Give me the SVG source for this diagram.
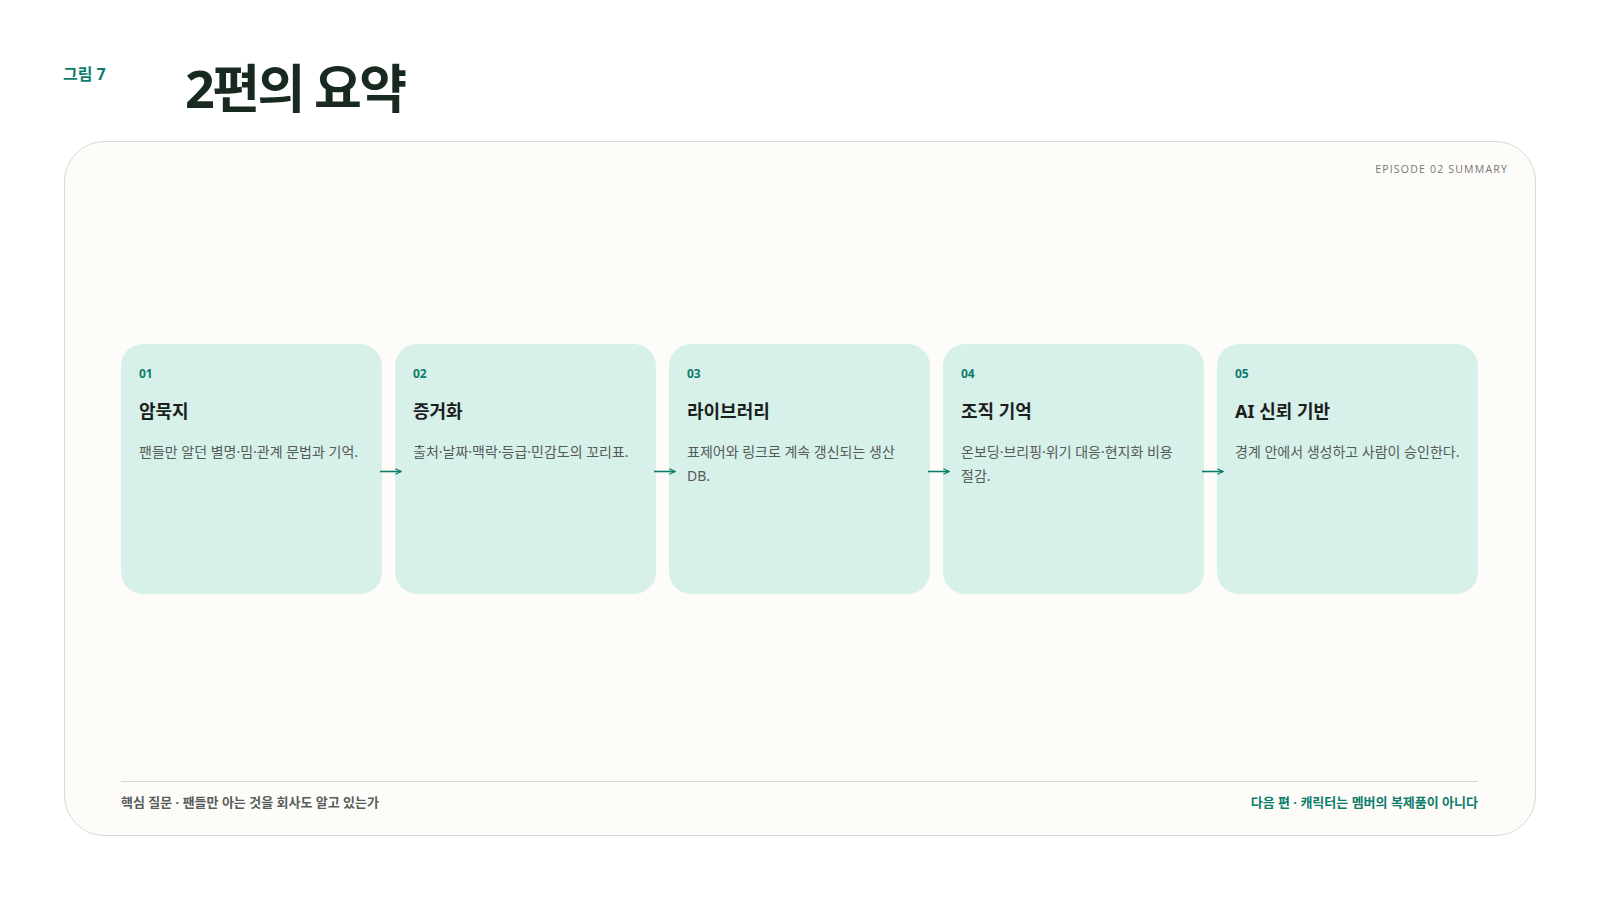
<svg xmlns="http://www.w3.org/2000/svg" width="1600" height="900" viewBox="0 0 1600 900">
<defs>
<style>
.k{font-family:"Noto Sans","Noto Sans CJK KR",sans-serif;}
.card{fill:#d7f0ea;}
.num{font-size:12px;font-weight:700;fill:#0e7c6b;}
.ttl{font-size:18px;font-weight:700;fill:#1b1f1d;}
.desc{font-size:14px;fill:#555b58;}
.conn{stroke:#0e7c6b;stroke-width:1.6;fill:none;}
</style>
<marker id="ah" viewBox="0 0 10 10" refX="9" refY="5" markerWidth="7" markerHeight="7" markerUnits="userSpaceOnUse" orient="auto">
<path d="M1,1 L9,5 L1,9" fill="none" stroke="#0e7c6b" stroke-width="1.8"/>
</marker>
</defs>
<rect width="1600" height="900" fill="#ffffff"/>
<text class="k" x="63" y="80" font-size="16" font-weight="700" fill="#0e7c6b">그림 7</text>
<text class="k" x="185" y="108" font-size="52" font-weight="700" fill="#18291f" letter-spacing="-2.5">2편의 요약</text>
<rect x="64.5" y="141.5" width="1471" height="694" rx="40" fill="#fdfcf9" stroke="#d9d9d7" stroke-width="1"/>
<text x="1508" y="173" text-anchor="end" font-family="Open Sans, sans-serif" font-size="10.5" letter-spacing="1.2" fill="#777">EPISODE 02 SUMMARY</text>

<g id="node1">
<rect class="card" x="121" y="344" width="261" height="250" rx="22"/>
<text class="k num" x="139" y="378">01</text>
<text class="k ttl" x="139" y="418">암묵지</text>
<text class="k desc" x="139" y="457">팬들만 알던 별명·밈·관계 문법과 기억.</text>
</g>
<g id="node2">
<rect class="card" x="395" y="344" width="261" height="250" rx="22"/>
<text class="k num" x="413" y="378">02</text>
<text class="k ttl" x="413" y="418">증거화</text>
<text class="k desc" x="413" y="457">출처·날짜·맥락·등급·민감도의 꼬리표.</text>
</g>
<g id="node3">
<rect class="card" x="669" y="344" width="261" height="250" rx="22"/>
<text class="k num" x="687" y="378">03</text>
<text class="k ttl" x="687" y="418">라이브러리</text>
<text class="k desc" x="687" y="457">표제어와 링크로 계속 갱신되는 생산</text>
<text class="k desc" x="687" y="480.5">DB.</text>
</g>
<g id="node4">
<rect class="card" x="943" y="344" width="261" height="250" rx="22"/>
<text class="k num" x="961" y="378">04</text>
<text class="k ttl" x="961" y="418">조직 기억</text>
<text class="k desc" x="961" y="457">온보딩·브리핑·위기 대응·현지화 비용</text>
<text class="k desc" x="961" y="480.5">절감.</text>
</g>
<g id="node5">
<rect class="card" x="1217" y="344" width="261" height="250" rx="22"/>
<text class="k num" x="1235" y="378">05</text>
<text class="k ttl" x="1235" y="418">AI 신뢰 기반</text>
<text class="k desc" x="1235" y="457">경계 안에서 생성하고 사람이 승인한다.</text>
</g>

<g id="connectors">
<line class="conn" x1="380" y1="471.5" x2="401" y2="471.5" marker-end="url(#ah)"/>
<line class="conn" x1="654" y1="471.5" x2="675" y2="471.5" marker-end="url(#ah)"/>
<line class="conn" x1="928" y1="471.5" x2="949" y2="471.5" marker-end="url(#ah)"/>
<line class="conn" x1="1202" y1="471.5" x2="1223" y2="471.5" marker-end="url(#ah)"/>
</g>

<line x1="121" y1="781.5" x2="1478" y2="781.5" stroke="#d5d5d3" stroke-width="1"/>
<text class="k" x="121" y="807" font-size="13" font-weight="700" fill="#585d5a">핵심 질문 · 팬들만 아는 것을 회사도 알고 있는가</text>
<text class="k" x="1478" y="807" font-size="13" font-weight="700" fill="#0e7c6b" text-anchor="end">다음 편 · 캐릭터는 멤버의 복제품이 아니다</text>
</svg>
